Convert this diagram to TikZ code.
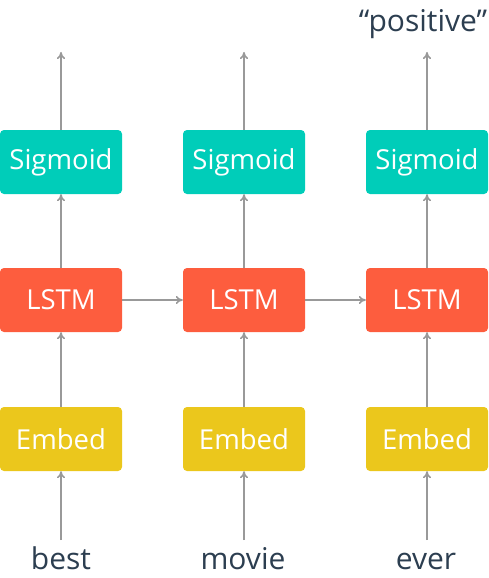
\documentclass[tikz,border=0pt]{standalone}
\usepackage{fontspec}
\setmainfont{Open Sans}
\usetikzlibrary{arrows.meta}
\definecolor{sig}{HTML}{00CDB9}
\definecolor{lstm}{HTML}{FD5D3E}
\definecolor{emb}{HTML}{EBC71C}
\definecolor{txt}{HTML}{2C3E50}
\definecolor{arr}{HTML}{999999}
\begin{document}
\begin{tikzpicture}[x=1pt,y=-1pt,
  box/.style={rectangle,rounded corners=4pt,minimum width=122pt,minimum height=64pt,inner sep=0pt,text=white,font=\fontsize{27.5}{30}\selectfont},
  sigbox/.style={box,fill=sig},
  lstmbox/.style={box,fill=lstm},
  embbox/.style={box,fill=emb},
  word/.style={text=txt,font=\fontsize{30}{34}\selectfont,inner sep=0pt,anchor=base},
  conn/.style={draw=arr,line width=1.6pt,-{To[length=7pt,width=8pt]}}]
\useasboundingbox (0,0) rectangle (489,578);
\foreach \i/\x in {1/61,2/244,3/427}{
  \node[sigbox] (s\i) at (\x,162) {Sigmoid};
  \node[lstmbox] (l\i) at (\x,300) {LSTM};
  \node[embbox] (e\i) at (\x,439) {Embed};
  \coordinate (t\i) at (\x,52);
  \coordinate (b\i) at (\x,540);
}
\node[word] (w1) at (61,569) {best};
\node[word] (w2) at (243,569) {movie};
\node[word] (w3) at (426,569) {ever};
\node[word] (p) at (423,32) {“positive”};
\foreach \i in {1,2,3}{
  \draw[conn] (b\i) -- (e\i);
  \draw[conn] (e\i) -- (l\i);
  \draw[conn] (l\i) -- (s\i);
  \draw[conn] (s\i) -- (t\i);
}
\draw[conn] (l1) -- (l2);
\draw[conn] (l2) -- (l3);
\end{tikzpicture}
\end{document}
